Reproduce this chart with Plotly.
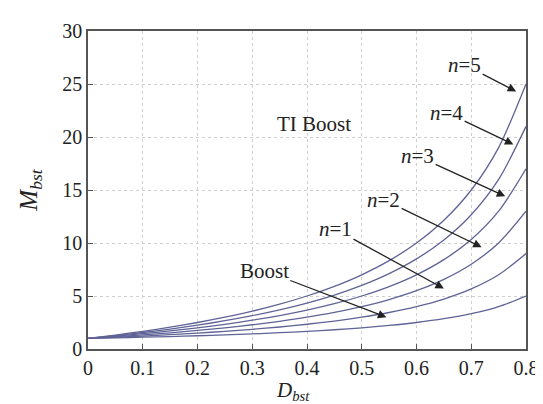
import plotly.graph_objects as go

# Duty cycle D_bst
d_bst = [0.00, 0.05, 0.10, 0.15, 0.20, 0.25, 0.30, 0.35, 0.40, 0.45,
         0.50, 0.55, 0.60, 0.65, 0.70, 0.75, 0.80]

# Voltage gain M_bst
m_boost = [1.000, 1.053, 1.111, 1.176, 1.250, 1.333, 1.429, 1.538, 1.667,
           1.818, 2.000, 2.222, 2.500, 2.857, 3.333, 4.000, 5.000]
m_n1 = [1.000, 1.105, 1.222, 1.353, 1.500, 1.667, 1.857, 2.077, 2.333,
        2.636, 3.000, 3.444, 4.000, 4.714, 5.667, 7.000, 9.000]
m_n2 = [1.000, 1.158, 1.333, 1.529, 1.750, 2.000, 2.286, 2.615, 3.000,
        3.455, 4.000, 4.667, 5.500, 6.571, 8.000, 10.000, 13.000]
m_n3 = [1.000, 1.211, 1.444, 1.706, 2.000, 2.333, 2.714, 3.154, 3.667,
        4.273, 5.000, 5.889, 7.000, 8.429, 10.333, 13.000, 17.000]
m_n4 = [1.000, 1.263, 1.556, 1.882, 2.250, 2.667, 3.143, 3.692, 4.333,
        5.091, 6.000, 7.111, 8.500, 10.286, 12.667, 16.000, 21.000]
m_n5 = [1.000, 1.316, 1.667, 2.059, 2.500, 3.000, 3.571, 4.231, 5.000,
        5.909, 7.000, 8.333, 10.000, 12.143, 15.000, 19.000, 25.000]

series = [("Boost", m_boost), ("n=1", m_n1), ("n=2", m_n2),
          ("n=3", m_n3), ("n=4", m_n4), ("n=5", m_n5)]

x_ticks = [0, 0.1, 0.2, 0.3, 0.4, 0.5, 0.6, 0.7, 0.8]
x_tick_labels = ["0", "0.1", "0.2", "0.3", "0.4", "0.5", "0.6", "0.7", "0.8"]
y_ticks = [0, 5, 10, 15, 20, 25, 30]
y_tick_labels = ["0", "5", "10", "15", "20", "25", "30"]

# annotation labels: (text, text x, text y, arrow tip x, arrow tip y)
labels = [
    ("<i>n</i>=5", 0.688, 26.8, 0.782, 24.3),
    ("<i>n</i>=4", 0.655, 22.3, 0.777, 19.3),
    ("<i>n</i>=3", 0.602, 18.2, 0.762, 14.4),
    ("<i>n</i>=2", 0.540, 14.1, 0.719, 9.6),
    ("<i>n</i>=1", 0.452, 11.3, 0.650, 5.7),
    ("Boost", 0.322, 7.4, 0.545, 3.0),
]

font = "Liberation Serif, Times New Roman, serif"
fig = go.Figure()
for name, vals in series:
    fig.add_trace(go.Scatter(
        x=d_bst, y=vals, mode="lines", name=name,
        line=dict(color="#5f6396", width=1.3, shape="spline", smoothing=0.8),
        showlegend=False))

for text, tx, ty, hx, hy in labels:
    fig.add_annotation(
        x=hx, y=hy, ax=tx, ay=ty, axref="x", ayref="y", xref="x", yref="y",
        text=text, showarrow=True, arrowhead=2, arrowsize=1.3,
        arrowwidth=1.3, arrowcolor="#222", standoff=0,
        font=dict(family=font, size=21, color="#222"))

fig.add_annotation(x=0.412, y=21.2, xref="x", yref="y", text="TI Boost",
                   showarrow=False, font=dict(family=font, size=21, color="#222"))

# x-axis title placed as an annotation so the subscript stays inside the page
fig.add_annotation(x=0.375, y=0, xref="x", yref="paper", yanchor="bottom",
                   yshift=-57, showarrow=False,
                   text="<i>D</i><sub><i>bst</i></sub>",
                   font=dict(family=font, size=21, color="#222"))

fig.update_layout(
    width=543, height=404,
    margin=dict(l=80, r=20, t=13, b=63),
    paper_bgcolor="white", plot_bgcolor="white",
    font=dict(family=font, size=20, color="#222"),
    xaxis=dict(
        range=[0, 0.8], tickvals=x_ticks, ticktext=x_tick_labels,
        ticks="inside", ticklen=5, tickcolor="#555",
        showline=True, linecolor="#555", linewidth=1.5, mirror=True,
        showgrid=True, gridcolor="#cfcfcf", griddash="dot", gridwidth=1,
        zeroline=False,
    ),
    yaxis=dict(
        range=[0, 30], tickvals=y_ticks, ticktext=y_tick_labels,
        ticks="inside", ticklen=5, tickcolor="#555",
        showline=True, linecolor="#555", linewidth=1.5, mirror=True,
        showgrid=True, gridcolor="#cfcfcf", griddash="dot", gridwidth=1,
        zeroline=False,
        title=dict(text="<i>M</i><sub><i>bst</i></sub>",
                   font=dict(family=font, size=25), standoff=18),
    ),
)

fig.write_html("out.html")
